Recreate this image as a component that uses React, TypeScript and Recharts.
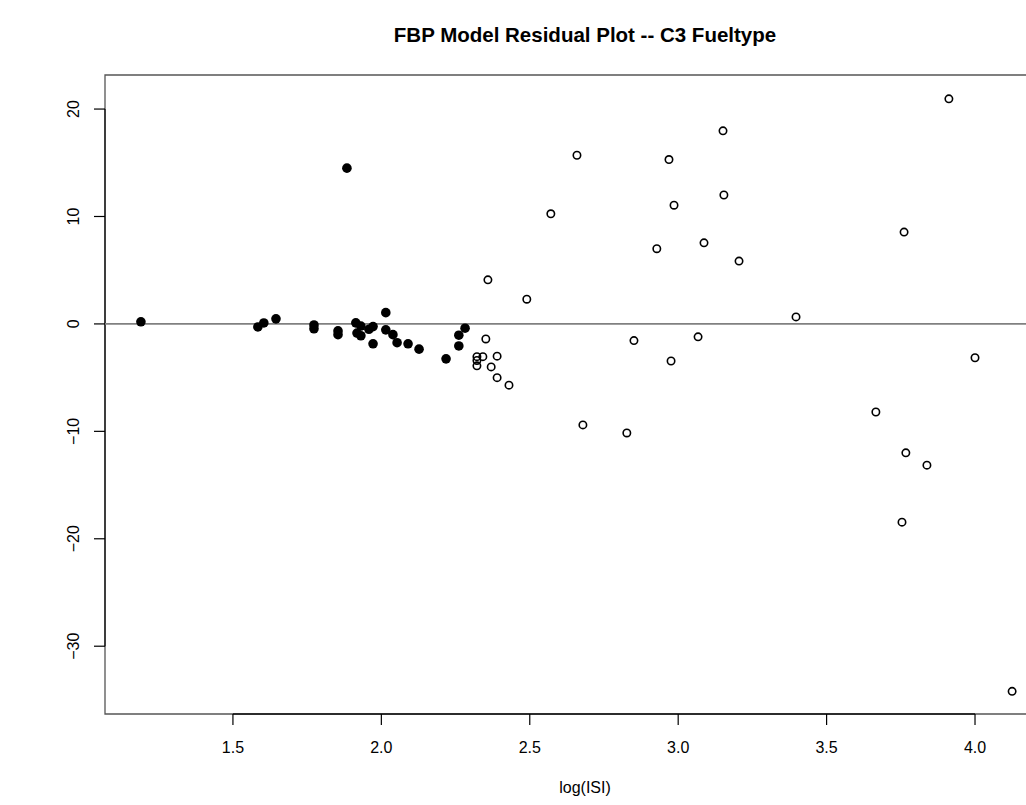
import { ReferenceArea, ReferenceLine, Scatter, ScatterChart, XAxis, YAxis } from "recharts";

// log(ISI) and residual for points inside the C3 fit range (solid dots)
const fittedLogIsi = [
    1.19, 1.584, 1.604, 1.645, 1.773, 1.773, 1.854, 1.854, 1.884, 1.914, 1.931, 1.918, 1.931,
    1.958, 1.972, 1.972, 2.015, 2.015, 2.039, 2.053, 2.09, 2.127, 2.218, 2.261, 2.261, 2.282,
];
const fittedResid = [
    0.2, -0.28, 0.09, 0.47, -0.1, -0.45, -0.65, -1.0, 14.5, 0.1, -0.2, -0.85, -1.1, -0.5, -0.25,
    -1.85, 1.05, -0.55, -1.0, -1.75, -1.85, -2.35, -3.25, -2.05, -1.05, -0.4,
];

// points outside the fit range (open circles)
const otherLogIsi = [
    2.322, 2.342, 2.322, 2.322, 2.352, 2.359, 2.37, 2.39, 2.39, 2.43, 2.49, 2.571, 2.659, 2.679,
    2.827, 2.851, 2.928, 2.969, 2.976, 2.986, 3.067, 3.087, 3.151, 3.154, 3.205, 3.397, 3.666,
    3.754, 3.761, 3.767, 3.838, 3.912, 4.0, 4.125,
];
const otherResid = [
    -3.05, -3.05, -3.4, -3.9, -1.4, 4.1, -4.0, -3.0, -5.0, -5.7, 2.3, 10.25, 15.7, -9.4, -10.15,
    -1.55, 7.0, 15.3, -3.45, 11.05, -1.2, 7.55, 17.97, 12.0, 5.85, 0.65, -8.2, -18.45, 8.55, -12.0,
    -13.15, 20.95, -3.15, -34.2,
];

const xTicks = [1.5, 2.0, 2.5, 3.0, 3.5, 4.0];
const yTicks = [-30, -20, -10, 0, 10, 20];

const X_MIN = 1.069;
const X_MAX = 4.32;
const Y_MIN = -36.31;
const Y_MAX = 23.17;

const FONT = '"Liberation Sans", Arial, Helvetica, sans-serif';

const fittedData = fittedLogIsi.map((x, i) => ({ x, y: fittedResid[i] }));
const otherData = otherLogIsi.map((x, i) => ({ x, y: otherResid[i] }));

const fmtTick = (v: number) => (v < 0 ? "\u2212" + Math.abs(v) : String(v));

const XTick = ({ x, y, payload }: any) => (
    <text x={x} y={y} dy={28} textAnchor="middle" fontSize={16} fontFamily={FONT} fill="#000">
        {payload.value.toFixed(1)}
    </text>
);

const YTick = ({ x, y, payload }: any) => {
    const bx = x - 15;
    return (
        <text
            x={bx}
            y={y}
            textAnchor="middle"
            fontSize={16}
            fontFamily={FONT}
            fill="#000"
            transform={`rotate(-90, ${bx}, ${y})`}
        >
            {fmtTick(payload.value)}
        </text>
    );
};

const SolidDot = (props: any) => <circle cx={props.cx} cy={props.cy} r={4.8} fill="#000" />;
const OpenDot = (props: any) => (
    <circle cx={props.cx} cy={props.cy} r={3.7} fill="none" stroke="#000" strokeWidth={1.6} />
);

export default function App() {
    return (
        <div
            style={{
                position: "absolute",
                left: 0,
                top: 0,
                width: 1026,
                height: 805,
                overflow: "hidden",
                background: "#fff",
                fontFamily: FONT,
            }}
        >
            <div
                style={{
                    position: "absolute",
                    left: 105,
                    top: 24,
                    width: 960,
                    textAlign: "center",
                    fontSize: 20.5,
                    lineHeight: "21px",
                    fontWeight: "bold",
                    whiteSpace: "nowrap",
                }}
            >
                FBP Model Residual Plot -- C3 Fueltype
            </div>
            <ScatterChart width={1100} height={805} margin={{ top: 75, right: 30, bottom: 0, left: 0 }}>
                <XAxis
                    type="number"
                    dataKey="x"
                    domain={[X_MIN, X_MAX]}
                    ticks={xTicks}
                    height={91}
                    axisLine={false}
                    tickSize={11}
                    tickMargin={0}
                    tickLine={{ stroke: "#000", strokeWidth: 1.2 }}
                    tick={<XTick />}
                    interval={0}
                    allowDataOverflow
                />
                <YAxis
                    type="number"
                    dataKey="y"
                    domain={[Y_MIN, Y_MAX]}
                    ticks={yTicks}
                    width={105}
                    axisLine={false}
                    tickSize={11}
                    tickMargin={0}
                    tickLine={{ stroke: "#000", strokeWidth: 1.2 }}
                    tick={<YTick />}
                    interval={0}
                    allowDataOverflow
                />
                <ReferenceArea
                    x1={X_MIN}
                    x2={X_MAX}
                    y1={Y_MIN}
                    y2={Y_MAX}
                    fill="none"
                    fillOpacity={0}
                    stroke="#555"
                    strokeWidth={1.3}
                    ifOverflow="visible"
                />
                <ReferenceLine
                    segment={[
                        { x: xTicks[0], y: Y_MIN },
                        { x: xTicks[xTicks.length - 1], y: Y_MIN },
                    ]}
                    stroke="#111"
                    strokeWidth={1.3}
                    ifOverflow="visible"
                />
                <ReferenceLine
                    segment={[
                        { x: X_MIN, y: yTicks[0] },
                        { x: X_MIN, y: yTicks[yTicks.length - 1] },
                    ]}
                    stroke="#111"
                    strokeWidth={1.3}
                    ifOverflow="visible"
                />
                <ReferenceLine y={0} stroke="#808080" strokeWidth={1.6} />
                <Scatter data={fittedData} shape={<SolidDot />} isAnimationActive={false} />
                <Scatter data={otherData} shape={<OpenDot />} isAnimationActive={false} />
            </ScatterChart>
            <div
                style={{
                    position: "absolute",
                    left: 105,
                    top: 780,
                    width: 960,
                    textAlign: "center",
                    fontSize: 16,
                    lineHeight: "16px",
                    whiteSpace: "nowrap",
                }}
            >
                log(ISI)
            </div>
        </div>
    );
}
